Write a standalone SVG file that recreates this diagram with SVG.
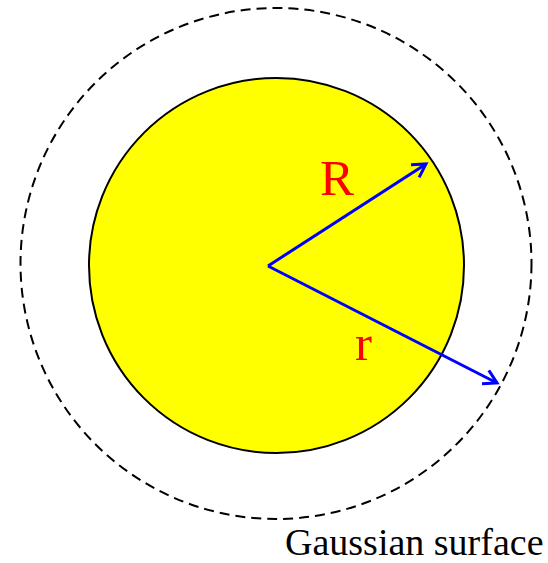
<svg xmlns="http://www.w3.org/2000/svg" width="548" height="563" viewBox="0 0 548 563">
<defs>
<marker id="head" markerWidth="18" markerHeight="18" refX="14" refY="9" orient="auto" markerUnits="userSpaceOnUse">
<path d="M1,1.5 L14,9 L1,16.5" fill="none" stroke="#0000ff" stroke-width="3"/>
</marker>
<style>
.arrow{stroke:#0000ff;stroke-width:3;fill:none;marker-end:url(#head)}
.lbl{font-family:"Liberation Serif","Times New Roman",serif;fill:#ff0000}
</style>
</defs>
<rect width="548" height="563" fill="#ffffff"/>
<g id="gaussian">
<circle cx="276" cy="263.5" r="255.5" fill="none" stroke="#000" stroke-width="2" stroke-dasharray="10,6"/>
</g>
<g id="sphere">
<circle cx="276.5" cy="265.5" r="187.5" fill="#ffff00" stroke="#000" stroke-width="2"/>
</g>
<g id="connectors">
<line class="arrow" x1="268" y1="266" x2="426" y2="164"/>
<line class="arrow" x1="268" y1="266" x2="497" y2="383"/>
</g>
<text class="lbl" x="320" y="195" font-size="51">R</text>
<text class="lbl" x="355" y="360" font-size="51">r</text>
<text x="285" y="554.5" font-family="Liberation Serif, Times New Roman, serif" font-size="38" fill="#000">Gaussian surface</text>
</svg>
